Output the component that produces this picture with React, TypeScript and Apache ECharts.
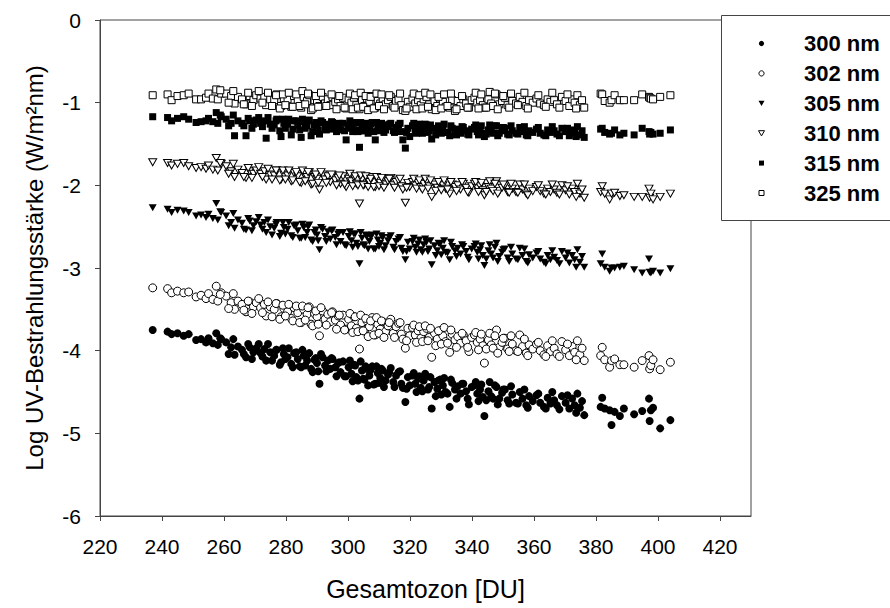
import React, { useEffect, useRef } from 'react';
import * as echarts from 'echarts';

// Total ozone (DU) of each measurement day
const ozone = [
  237.0, 241.8, 243.1, 245.0, 247.0, 248.6, 251.0, 252.6, 254.2, 255.0, 256.4, 257.5, 258.0, 259.1, 260.7, 262.3,
  263.4, 264.5, 265.8, 267.1, 268.3, 269.5, 270.4, 271.8, 273.0, 273.6, 274.9, 276.2, 277.0, 278.4, 279.3,
  280.5, 281.7, 282.6, 283.8, 284.9, 285.7, 286.8, 287.5, 288.1, 289.2, 290.0, 290.8, 291.8, 292.6, 293.5, 294.3, 295.0, 295.9, 296.8, 297.6, 298.4, 299.4,
  300.2, 301.1, 301.9, 302.7, 303.7, 304.5, 305.3, 306.1, 306.9, 307.8, 308.8, 309.6, 310.4, 311.2, 312.1, 312.9, 313.8, 314.6, 315.5, 316.3, 317.2, 317.7, 318.5, 319.3, 319.9,
  320.8, 321.7, 322.6, 323.5, 324.4, 325.3, 326.2, 327.0, 327.9, 328.8, 329.7, 330.6, 331.5, 332.8, 333.6, 334.5, 335.4, 336.3, 337.2, 338.1, 339.0, 339.9,
  340.8, 341.7, 342.6, 343.5, 344.0, 345.3, 346.2, 347.9, 348.8, 349.7, 350.6, 351.5, 353.0, 354.2, 355.4, 356.3, 357.5, 358.4, 359.6,
  360.8, 362.0, 363.2, 364.4, 365.3, 366.5, 367.4, 369.0, 370.2, 371.4, 372.3, 373.1, 374.0, 374.8, 375.5, 376.2,
  381.5, 382.0, 382.8, 384.4, 385.0, 386.0, 387.7, 389.0, 392.3, 394.9, 397.1, 397.3, 397.7, 398.4, 400.7, 404.0,
  // further days
  258.8, 261.5, 263.0, 266.4, 267.8, 269.0, 271.2, 272.4, 274.2, 275.5, 276.8, 278.0, 279.0, 279.8,
  280.9, 282.2, 283.3, 284.4, 285.3, 286.2, 287.1, 288.6, 289.6, 290.4, 291.3, 293.0, 294.7, 296.3, 297.2, 298.9,
  300.6, 301.5, 302.3, 303.2, 304.1, 304.9, 305.7, 306.5, 307.3, 308.3, 309.2, 310.0, 310.8, 311.6, 313.3, 315.0, 316.8, 318.9,
  321.2, 322.1, 323.0, 324.0, 324.9, 325.8, 326.6, 328.3, 329.2, 330.1, 331.0, 332.1, 333.2, 335.0, 336.8, 338.6,
  341.2, 342.1, 343.0, 344.6, 345.7, 346.8, 347.4, 348.3, 350.1, 352.0, 352.6, 354.8, 356.9, 358.0, 361.4, 363.8, 365.9, 368.2, 370.8, 373.6,
];

const uv300 = [
  -3.75, -3.77, -3.80, -3.79, -3.82, -3.80, -3.87, -3.86, -3.90, -3.85, -3.91, -3.79, -3.93, -3.86, -3.90, -3.96,
  -4.05, -3.95, -3.99, -4.08, -3.96, -4.02, -3.97, -4.03, -3.98, -4.12, -4.02, -4.06, -3.99, -4.14, -4.04,
  -4.08, -4.16, -4.03, -4.10, -4.20, -4.06, -4.12, -4.03, -4.22, -4.11, -4.15, -4.40, -4.08, -4.18, -4.12, -4.22, -4.10, -4.20, -4.15, -4.26, -4.13, -4.31,
  -4.20, -4.28, -4.17, -4.32, -4.58, -4.24, -4.35, -4.22, -4.30, -4.19, -4.40, -4.27, -4.33, -4.24, -4.36, -4.29, -4.21, -4.38, -4.30, -4.26, -4.40, -4.45, -4.62, -4.32, -4.42,
  -4.30, -4.40, -4.34, -4.45, -4.36, -4.31, -4.44, -4.70, -4.38, -4.46, -4.35, -4.42, -4.50, -4.68, -4.39, -4.47, -4.43, -4.52, -4.40, -4.49, -4.65, -4.44,
  -4.42, -4.52, -4.47, -4.56, -4.79, -4.49, -4.55, -4.44, -4.58, -4.51, -4.47, -4.60, -4.53, -4.63, -4.50, -4.58, -4.66, -4.55, -4.61,
  -4.54, -4.63, -4.68, -4.57, -4.64, -4.60, -4.66, -4.55, -4.63, -4.70, -4.58, -4.66, -4.52, -4.69, -4.61, -4.78,
  -4.68, -4.57, -4.70, -4.72, -4.90, -4.74, -4.79, -4.70, -4.77, -4.73, -4.58, -4.85, -4.72, -4.69, -4.94, -4.84,
  -3.85, -4.04, -3.86, -4.04, -3.92, -4.10, -3.92, -4.07, -3.92, -4.12, -3.99, -4.17, -3.97, -4.10,
  -3.97, -4.20, -4.02, -4.19, -3.99, -4.18, -4.04, -4.26, -4.09, -4.25, -4.04, -4.25, -4.09, -4.31, -4.14, -4.31,
  -4.12, -4.37, -4.18, -4.36, -4.13, -4.34, -4.19, -4.42, -4.23, -4.41, -4.19, -4.39, -4.22, -4.44, -4.26, -4.44, -4.25, -4.46,
  -4.27, -4.50, -4.31, -4.49, -4.28, -4.47, -4.32, -4.55, -4.36, -4.53, -4.33, -4.52, -4.35, -4.58, -4.40, -4.58,
  -4.38, -4.61, -4.41, -4.60, -4.38, -4.58, -4.42, -4.65, -4.47, -4.64, -4.43, -4.64, -4.47, -4.69, -4.52, -4.70, -4.50, -4.71, -4.54, -4.75,
];

const uv302 = [
  -3.24, -3.25, -3.30, -3.28, -3.30, -3.29, -3.35, -3.33, -3.37, -3.31, -3.38, -3.22, -3.40, -3.30, -3.34, -3.42,
  -3.50, -3.40, -3.44, -3.53, -3.41, -3.47, -3.42, -3.48, -3.44, -3.58, -3.47, -3.50, -3.43, -3.59, -3.49,
  -3.53, -3.61, -3.48, -3.54, -3.66, -3.50, -3.56, -3.47, -3.68, -3.55, -3.59, -3.82, -3.52, -3.62, -3.56, -3.65, -3.53, -3.63, -3.58, -3.69, -3.57, -3.74,
  -3.62, -3.70, -3.59, -3.73, -3.98, -3.66, -3.76, -3.64, -3.71, -3.60, -3.81, -3.68, -3.74, -3.65, -3.77, -3.70, -3.62, -3.79, -3.71, -3.67, -3.80, -3.86, -3.97, -3.73, -3.82,
  -3.72, -3.81, -3.76, -3.85, -3.77, -3.73, -3.84, -4.08, -3.79, -3.86, -3.76, -3.82, -3.89, -4.02, -3.80, -3.87, -3.83, -3.91, -3.81, -3.88, -4.01, -3.84,
  -3.81, -3.90, -3.86, -3.94, -4.15, -3.87, -3.93, -3.75, -3.96, -3.90, -3.85, -3.98, -3.92, -4.00, -3.81, -3.95, -4.03, -3.93, -3.98,
  -3.92, -4.00, -4.05, -3.94, -4.01, -3.97, -4.04, -3.89, -3.99, -4.06, -3.95, -4.02, -3.88, -4.05, -3.97, -4.12,
  -4.06, -3.96, -4.11, -4.20, -4.12, -4.10, -4.17, -4.17, -4.20, -4.12, -4.06, -4.22, -4.18, -4.11, -4.23, -4.14,
  -3.32, -3.49, -3.31, -3.51, -3.40, -3.55, -3.37, -3.54, -3.41, -3.59, -3.43, -3.62, -3.45, -3.58,
  -3.44, -3.64, -3.46, -3.66, -3.46, -3.63, -3.48, -3.70, -3.52, -3.68, -3.48, -3.69, -3.54, -3.74, -3.57, -3.75,
  -3.55, -3.78, -3.59, -3.77, -3.57, -3.76, -3.61, -3.83, -3.64, -3.81, -3.60, -3.79, -3.64, -3.84, -3.66, -3.84, -3.66, -3.88,
  -3.69, -3.90, -3.71, -3.89, -3.70, -3.88, -3.73, -3.94, -3.76, -3.92, -3.72, -3.91, -3.75, -3.96, -3.79, -3.96,
  -3.78, -3.99, -3.80, -3.98, -3.79, -3.97, -3.82, -4.03, -3.85, -4.01, -3.82, -4.01, -3.86, -4.06, -3.90, -4.07, -3.88, -4.07, -3.92, -4.11,
];

const uv305 = [
  -2.27, -2.29, -2.33, -2.30, -2.31, -2.33, -2.37, -2.36, -2.39, -2.35, -2.40, -2.22, -2.42, -2.33, -2.37, -2.45,
  -2.52, -2.42, -2.46, -2.54, -2.43, -2.49, -2.44, -2.48, -2.45, -2.57, -2.50, -2.52, -2.45, -2.58, -2.51,
  -2.53, -2.61, -2.49, -2.55, -2.64, -2.51, -2.57, -2.48, -2.66, -2.57, -2.60, -2.78, -2.53, -2.62, -2.56, -2.65, -2.54, -2.63, -2.59, -2.68, -2.57, -2.73,
  -2.62, -2.67, -2.59, -2.70, -2.95, -2.64, -2.73, -2.62, -2.68, -2.60, -2.77, -2.66, -2.70, -2.63, -2.73, -2.67, -2.61, -2.75, -2.68, -2.65, -2.76, -2.80, -2.90, -2.69, -2.77,
  -2.68, -2.75, -2.71, -2.78, -2.72, -2.69, -2.77, -2.96, -2.73, -2.79, -2.71, -2.76, -2.81, -2.90, -2.74, -2.79, -2.76, -2.83, -2.74, -2.80, -2.90, -2.77,
  -2.74, -2.81, -2.78, -2.85, -2.97, -2.79, -2.83, -2.70, -2.86, -2.81, -2.77, -2.88, -2.83, -2.89, -2.76, -2.85, -2.92, -2.84, -2.88,
  -2.82, -2.89, -2.93, -2.85, -2.90, -2.87, -2.91, -2.80, -2.88, -2.94, -2.85, -2.90, -2.78, -2.93, -2.86, -2.99,
  -2.95, -2.83, -2.99, -3.04, -3.00, -3.00, -2.99, -2.98, -3.02, -3.06, -2.89, -3.05, -3.06, -3.04, -3.06, -3.01,
  -2.32, -2.49, -2.34, -2.53, -2.40, -2.55, -2.39, -2.53, -2.42, -2.60, -2.47, -2.62, -2.45, -2.59,
  -2.45, -2.63, -2.48, -2.64, -2.47, -2.63, -2.50, -2.68, -2.54, -2.67, -2.51, -2.68, -2.55, -2.72, -2.57, -2.72,
  -2.56, -2.75, -2.59, -2.74, -2.57, -2.72, -2.60, -2.77, -2.62, -2.77, -2.59, -2.74, -2.61, -2.78, -2.63, -2.78, -2.63, -2.80,
  -2.64, -2.81, -2.66, -2.81, -2.65, -2.80, -2.67, -2.85, -2.70, -2.84, -2.67, -2.82, -2.69, -2.86, -2.72, -2.87,
  -2.71, -2.89, -2.73, -2.89, -2.72, -2.88, -2.75, -2.92, -2.78, -2.92, -2.75, -2.90, -2.77, -2.94, -2.80, -2.95, -2.79, -2.95, -2.82, -2.99,
];

const uv310 = [
  -1.72, -1.73, -1.76, -1.74, -1.73, -1.77, -1.79, -1.78, -1.80, -1.76, -1.81, -1.67, -1.82, -1.74, -1.77, -1.83,
  -1.90, -1.81, -1.85, -1.91, -1.83, -1.86, -1.82, -1.86, -1.83, -1.93, -1.87, -1.88, -1.82, -1.93, -1.87,
  -1.88, -1.95, -1.85, -1.89, -1.97, -1.86, -1.90, -1.84, -1.99, -1.90, -1.92, -2.05, -1.87, -1.93, -1.89, -1.96, -1.88, -1.94, -1.91, -1.98, -1.89, -2.02,
  -1.92, -1.95, -1.90, -1.98, -2.22, -1.93, -1.99, -1.92, -1.96, -1.90, -2.02, -1.94, -1.97, -1.92, -1.99, -1.95, -1.91, -2.00, -1.96, -1.94, -2.01, -2.05, -2.21, -1.97, -2.02,
  -1.96, -2.00, -1.97, -2.02, -1.98, -1.95, -2.01, -2.14, -1.99, -2.03, -1.97, -2.00, -2.04, -2.10, -1.99, -2.02, -2.00, -2.05, -1.98, -2.03, -2.09, -2.01,
  -1.98, -2.03, -2.01, -2.06, -2.12, -2.02, -2.04, -1.95, -2.07, -2.03, -2.00, -2.08, -2.04, -2.08, -1.99, -2.05, -2.10, -2.04, -2.07,
  -2.02, -2.07, -2.10, -2.04, -2.08, -2.05, -2.09, -2.00, -2.06, -2.11, -2.04, -2.08, -1.98, -2.10, -2.05, -2.15,
  -2.08, -2.01, -2.10, -2.17, -2.10, -2.09, -2.13, -2.12, -2.14, -2.14, -2.04, -2.15, -2.10, -2.17, -2.14, -2.10,
  -1.73, -1.86, -1.74, -1.90, -1.79, -1.91, -1.78, -1.90, -1.80, -1.93, -1.82, -1.94, -1.82, -1.93,
  -1.82, -1.94, -1.84, -1.96, -1.82, -1.95, -1.84, -1.98, -1.87, -1.97, -1.84, -1.97, -1.87, -2.00, -1.88, -1.99,
  -1.86, -2.01, -1.89, -2.00, -1.88, -2.00, -1.89, -2.02, -1.92, -2.02, -1.90, -2.01, -1.91, -2.03, -1.92, -2.03, -1.92, -2.03,
  -1.92, -2.04, -1.94, -2.05, -1.92, -2.04, -1.94, -2.07, -1.96, -2.06, -1.94, -2.05, -1.96, -2.07, -1.96, -2.08,
  -1.96, -2.08, -1.97, -2.08, -1.95, -2.07, -1.98, -2.10, -1.99, -2.09, -1.98, -2.09, -1.99, -2.12, -2.00, -2.11, -1.99, -2.11, -2.01, -2.14,
];

const uv315 = [
  -1.17, -1.18, -1.22, -1.19, -1.17, -1.20, -1.24, -1.23, -1.22, -1.19, -1.23, -1.12, -1.25, -1.17, -1.20, -1.25,
  -1.40, -1.22, -1.25, -1.40, -1.22, -1.26, -1.21, -1.25, -1.22, -1.43, -1.26, -1.27, -1.20, -1.41, -1.25,
  -1.26, -1.39, -1.22, -1.27, -1.42, -1.23, -1.28, -1.21, -1.40, -1.27, -1.29, -1.38, -1.24, -1.30, -1.26, -1.32, -1.24, -1.30, -1.27, -1.33, -1.25, -1.45,
  -1.27, -1.31, -1.25, -1.33, -1.54, -1.28, -1.34, -1.26, -1.30, -1.24, -1.45, -1.29, -1.32, -1.27, -1.33, -1.29, -1.25, -1.34, -1.30, -1.27, -1.35, -1.45, -1.55, -1.31, -1.41,
  -1.28, -1.33, -1.30, -1.35, -1.30, -1.27, -1.34, -1.44, -1.31, -1.35, -1.29, -1.32, -1.36, -1.40, -1.31, -1.34, -1.32, -1.37, -1.30, -1.34, -1.39, -1.32,
  -1.30, -1.35, -1.32, -1.37, -1.41, -1.33, -1.35, -1.28, -1.37, -1.34, -1.31, -1.38, -1.34, -1.37, -1.30, -1.35, -1.39, -1.34, -1.36,
  -1.32, -1.37, -1.39, -1.33, -1.36, -1.34, -1.38, -1.31, -1.35, -1.40, -1.33, -1.37, -1.29, -1.39, -1.34, -1.42,
  -1.32, -1.31, -1.36, -1.38, -1.37, -1.33, -1.39, -1.37, -1.39, -1.31, -1.35, -1.38, -1.36, -1.38, -1.37, -1.33,
  -1.15, -1.28, -1.15, -1.28, -1.19, -1.31, -1.18, -1.29, -1.18, -1.31, -1.22, -1.34, -1.20, -1.31,
  -1.20, -1.32, -1.22, -1.33, -1.20, -1.31, -1.22, -1.35, -1.24, -1.33, -1.22, -1.33, -1.23, -1.35, -1.25, -1.34,
  -1.22, -1.35, -1.24, -1.35, -1.24, -1.34, -1.25, -1.37, -1.26, -1.35, -1.24, -1.34, -1.25, -1.36, -1.26, -1.36, -1.25, -1.36,
  -1.25, -1.37, -1.26, -1.37, -1.26, -1.36, -1.27, -1.39, -1.28, -1.37, -1.26, -1.36, -1.28, -1.39, -1.29, -1.38,
  -1.27, -1.39, -1.28, -1.38, -1.27, -1.37, -1.28, -1.40, -1.30, -1.39, -1.28, -1.38, -1.29, -1.40, -1.30, -1.40, -1.29, -1.40, -1.31, -1.41,
];

const uv325 = [
  -0.91, -0.90, -0.97, -0.92, -0.91, -0.89, -0.96, -0.96, -0.94, -0.89, -0.95, -0.84, -0.96, -0.89, -0.89, -0.92,
  -1.01, -0.93, -0.96, -1.02, -0.92, -0.97, -0.91, -0.95, -0.93, -1.03, -0.96, -0.97, -0.90, -1.04, -0.95,
  -0.96, -1.05, -0.92, -0.97, -1.06, -0.93, -0.98, -0.91, -1.09, -0.97, -1.00, -1.04, -0.93, -1.01, -0.96, -1.03, -0.93, -0.99, -0.96, -1.04, -0.94, -1.07,
  -0.96, -1.00, -0.94, -1.03, -1.08, -0.97, -1.04, -0.95, -0.99, -0.92, -1.06, -0.98, -1.01, -0.95, -1.02, -0.97, -0.93, -1.04, -0.98, -0.96, -1.03, -1.09, -1.10, -0.99, -1.05,
  -0.95, -1.01, -0.97, -1.03, -0.96, -0.93, -1.02, -1.08, -0.98, -1.04, -0.95, -0.99, -1.05, -1.06, -0.97, -1.10, -0.98, -1.04, -0.96, -1.01, -1.06, -0.97,
  -0.94, -1.00, -0.97, -1.03, -1.06, -0.96, -1.01, -0.90, -1.02, -0.98, -0.94, -1.03, -0.98, -1.01, -0.93, -0.99, -1.04, -0.97, -1.00,
  -0.95, -1.01, -1.03, -0.96, -0.99, -0.97, -1.02, -0.93, -0.98, -1.04, -0.96, -1.00, -0.91, -1.03, -0.97, -1.06,
  -0.89, -0.90, -0.98, -1.00, -0.97, -0.91, -0.97, -0.97, -0.97, -0.90, -0.93, -0.94, -0.95, -0.96, -0.93, -0.91,
  -0.85, -1.00, -0.86, -1.02, -0.88, -1.04, -0.86, -1.00, -0.88, -1.04, -0.91, -1.07, -0.90, -1.03,
  -0.88, -1.05, -0.90, -1.04, -0.86, -1.02, -0.89, -1.07, -0.92, -1.05, -0.88, -1.04, -0.90, -1.08, -0.92, -1.06,
  -0.89, -1.08, -0.91, -1.06, -0.88, -1.05, -0.92, -1.09, -0.93, -1.07, -0.89, -1.04, -0.90, -1.08, -0.91, -1.06, -0.89, -1.07,
  -0.89, -1.08, -0.91, -1.07, -0.88, -1.05, -0.90, -1.09, -0.93, -1.07, -0.90, -1.04, -0.89, -1.08, -0.92, -1.06,
  -0.88, -1.07, -0.90, -1.06, -0.87, -1.04, -0.89, -1.08, -0.92, -1.06, -0.89, -1.03, -0.88, -1.07, -0.91, -1.05, -0.88, -1.06, -0.90, -1.07,
];

const xTicks = [220, 240, 260, 280, 300, 320, 340, 360, 380, 400, 420];
const seriesNames = ['300 nm', '302 nm', '305 nm', '310 nm', '315 nm', '325 nm'];

const FONT = '"Liberation Sans", Arial, Helvetica, sans-serif';

export default function App() {
  const ref = useRef<HTMLDivElement>(null);

  useEffect(() => {
    if (!ref.current) return;
    const chart = echarts.init(ref.current, null, { renderer: 'svg' });
    const pairs = (ys: number[]) => ozone.map((x, i) => [x, ys[i]]);
    const filled = { color: '#000', opacity: 1 };
    const open = { color: '#fff', borderColor: '#000', borderWidth: 1, opacity: 1 };
    const ys = [uv300, uv302, uv305, uv310, uv315, uv325];
    const symbols = ['circle', 'circle', 'triangle', 'triangle', 'rect', 'rect'];
    const sizes: any[] = [8, 8, [8, 7], [8, 7], 7, 7];
    const rot = [0, 0, 180, 180, 0, 0];
    const styles = [filled, open, filled, open, filled, open];

    const series = seriesNames.map((name, k) => ({
      name,
      type: 'scatter',
      data: pairs(ys[k]),
      symbol: symbols[k],
      symbolSize: sizes[k],
      symbolRotate: rot[k],
      itemStyle: styles[k],
      emphasis: { disabled: true },
      z: 2,
    }));

    // legend box
    const rowY = (i: number) => 43.5 + i * 29.9;
    const sx = 761.5;
    const legendEls: any[] = [
      {
        type: 'rect',
        shape: { x: 721.5, y: 15.5, width: 220, height: 205 },
        style: { fill: '#fff', stroke: '#444', lineWidth: 1 },
        z: 100,
      },
    ];
    seriesNames.forEach((name, i) => {
      const y = rowY(i);
      const fillStyle = { fill: '#000' };
      const openStyle = { fill: '#fff', stroke: '#000', lineWidth: 1 };
      const st = i % 2 === 0 ? fillStyle : openStyle;
      if (i < 2) {
        legendEls.push({ type: 'circle', shape: { cx: sx, cy: y, r: 2.6 }, style: st, z: 101 });
      } else if (i < 4) {
        legendEls.push({
          type: 'polygon',
          shape: { points: [[sx - 3, y - 2.5], [sx + 3, y - 2.5], [sx, y + 2.7]] },
          style: st,
          z: 101,
        });
      } else {
        legendEls.push({ type: 'rect', shape: { x: sx - 2.5, y: y - 2.5, width: 5, height: 5 }, style: st, z: 101 });
      }
      legendEls.push({
        type: 'text',
        style: {
          text: name,
          x: 804,
          y,
          fill: '#000',
          fontSize: 22,
          fontWeight: 'bold',
          fontFamily: FONT,
          align: 'left',
          verticalAlign: 'middle',
        },
        z: 101,
      });
    });

    chart.setOption({
      animation: false,
      backgroundColor: '#fff',
      textStyle: { fontFamily: FONT },
      grid: {
        left: 100,
        right: 139,
        top: 20,
        bottom: 92,
        show: true,
        borderColor: '#444',
        borderWidth: 1,
        backgroundColor: 'transparent',
      },
      xAxis: {
        type: 'value',
        min: 220,
        max: 430,
        interval: 20,
        name: 'Gesamtozon [DU]',
        nameLocation: 'middle',
        nameGap: 60,
        nameTextStyle: { fontSize: 25, color: '#000', fontFamily: FONT },
        axisLine: { show: true, onZero: false, lineStyle: { color: '#444', width: 1 } },
        axisTick: { show: true, inside: false, length: 5, lineStyle: { color: '#444' }, customValues: xTicks },
        axisLabel: { fontSize: 21, color: '#000', margin: 20, fontFamily: FONT, customValues: xTicks },
        splitLine: { show: false },
      },
      yAxis: {
        type: 'value',
        min: -6,
        max: 0,
        interval: 1,
        name: 'Log UV-Bestrahlungsstärke (W/m²nm)',
        nameLocation: 'middle',
        nameGap: 54,
        nameTextStyle: { fontSize: 24, color: '#000', fontFamily: FONT },
        axisLine: { show: true, onZero: false, lineStyle: { color: '#444', width: 1 } },
        axisTick: { show: true, inside: false, length: 5, lineStyle: { color: '#444' } },
        axisLabel: { fontSize: 21, color: '#000', margin: 19, fontFamily: FONT },
        splitLine: { show: false },
      },
      series,
      graphic: { elements: legendEls },
    });

    return () => chart.dispose();
  }, []);

  return (
    <div
      ref={ref}
      style={{ position: 'fixed', left: 0, top: 0, width: 890, height: 608, background: '#fff' }}
    />
  );
}
